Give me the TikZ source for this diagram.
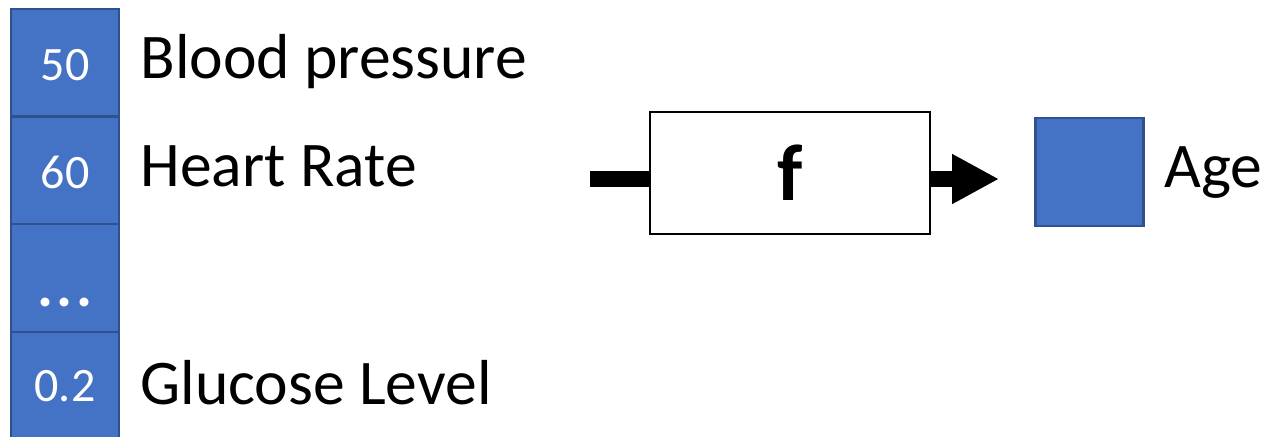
\documentclass[tikz,border=0pt]{standalone}
\usepackage{fontspec}
\setmainfont{Carlito}
\usetikzlibrary{arrows.meta}
\definecolor{cellfill}{HTML}{4472C4}
\definecolor{celledge}{HTML}{2F528F}
\tikzset{
  cell/.style={draw=celledge, fill=cellfill, line width=1.2pt, minimum width=54pt, minimum height=54pt, inner sep=0pt},
  num/.style={text=white, inner sep=0pt, font=\fontsize{24}{28}\selectfont},
  lab/.style={anchor=base west, inner sep=0pt, font=\fontsize{31.8}{37}\selectfont},
  fbox/.style={draw=black, line width=0.8pt, minimum width=140pt, minimum height=61pt, inner sep=0pt, font=\fontsize{40}{46}\selectfont\bfseries},
  thick line/.style={line width=8pt}
}
\begin{document}
\begin{tikzpicture}[x=0.5pt,y=-0.5pt]
\useasboundingbox (0,0) rectangle (1263,436);
\clip (0,0) rectangle (1263,436);
% column of cells
\node[cell] (c1) at (65,63) {};
\node[cell] (c2) at (65,170.5) {};
\node[cell] (c3) at (65,278) {};
\node[cell] (c4) at (65,386) {};
\node[num] (n1) at (65,65) {50};
\node[num] (n2) at (65,172) {60};
\node[num, anchor=base, font=\fontsize{30}{34}\selectfont\bfseries] (n3) at (65,306) {.\kern1.5pt.\kern1.5pt.};
\node[num] (n4) at (65,386) {0.2};
% labels
\node[lab] (l1) at (140,78) {Blood pressure};
\node[lab] (l2) at (140,186) {Heart Rate};
\node[lab] (l4) at (140,404) {Glucose Level};
% function box
\node[fbox] (f) at (790,173) {f};
\coordinate (in) at (590,179);
\coordinate (outend) at (999,179);
\draw[thick line] (in) -- (in -| f.west);
\draw[thick line, -{Triangle[length=23.5pt, width=23.5pt]}] (outend -| f.east) -- (outend);
% output
\node[cell] (age) at (1089.5,172) {};
\node[lab] (agel) at (1164,187) {Age};
\end{tikzpicture}
\end{document}
